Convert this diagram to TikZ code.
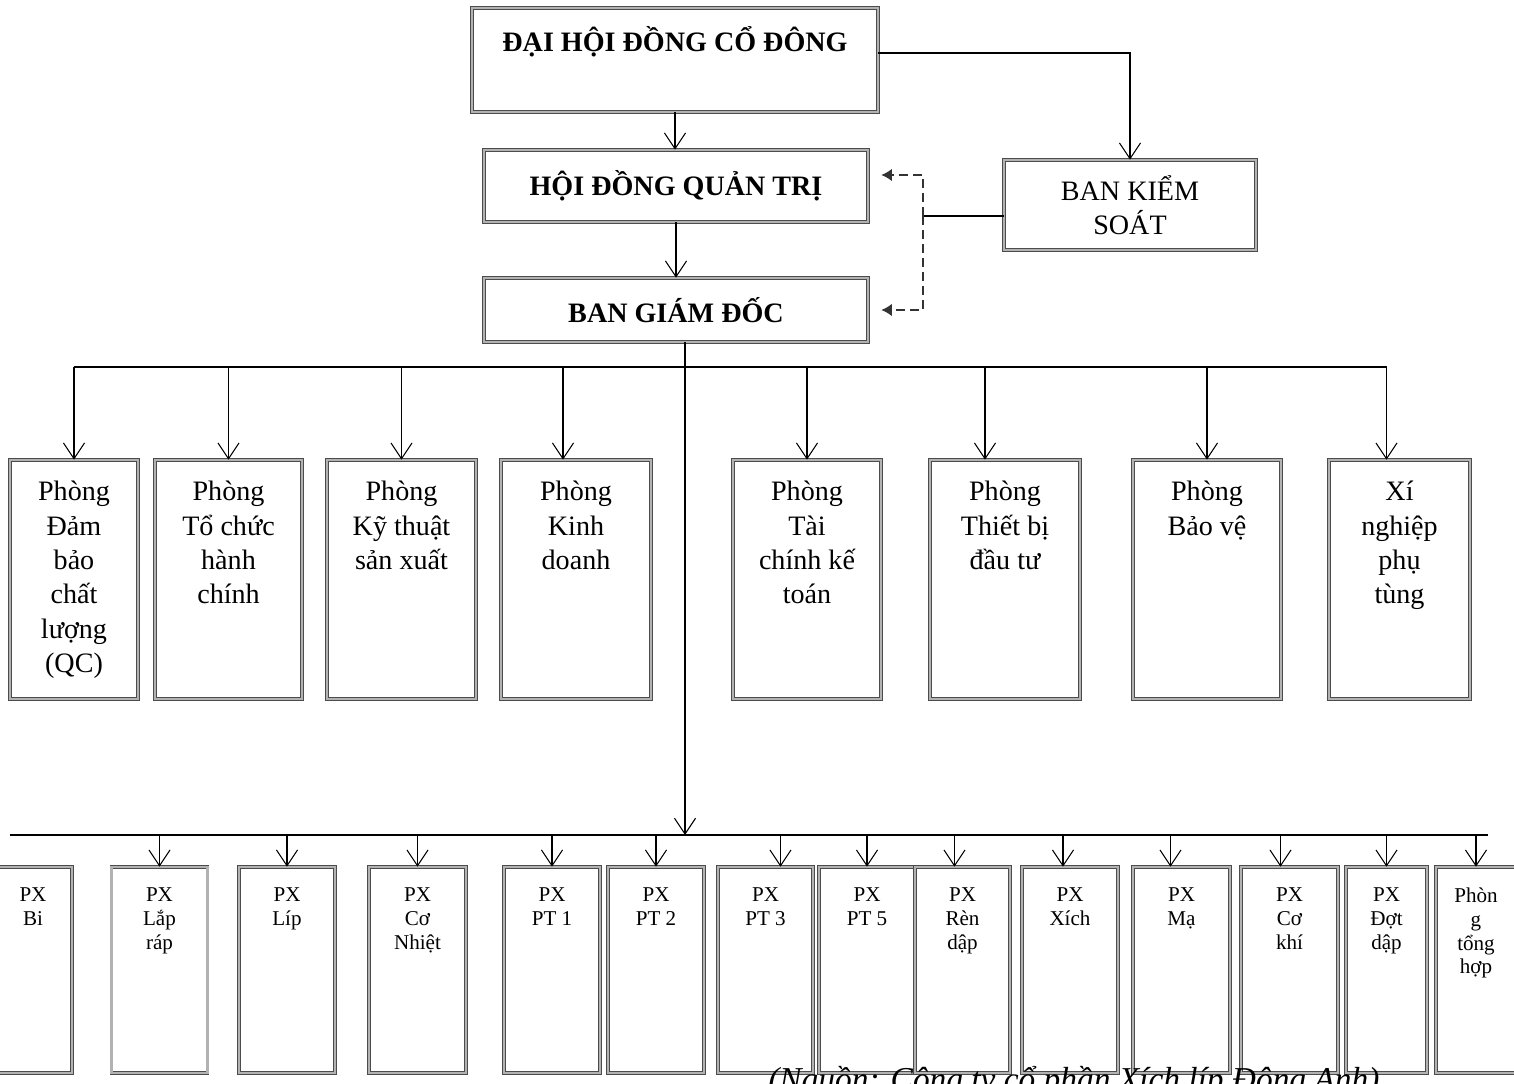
\documentclass[tikz,border=0pt]{standalone}
\usepackage{fontspec}
\setmainfont{Liberation Serif}
\usetikzlibrary{arrows.meta,positioning,calc}

\begin{document}
\begin{tikzpicture}
        [
            x=0.02cm, y=-0.02cm,
            box/.style={draw=black!70, double=black!30, double distance=1.4pt, line width=0.35pt, inner sep=0pt},
            sz/.style 2 args={minimum width=#1*0.02cm, minimum height=#2*0.02cm},
            arr/.style={-{Straight Barb[length=9pt,width=12pt]}, line width=0.6pt},
            link/.style={line width=0.6pt},
            dasharr/.style={-{Latex[length=6pt,width=7pt]}, dash pattern=on 5pt off 3pt, line width=0.7pt, black!80},
            head/.style={font=\fontsize{16}{19.3}\selectfont\bfseries},
            room/.style={font=\fontsize{16}{19.6}\selectfont, align=center, inner sep=0pt},
            shop/.style={font=\fontsize{12}{13.5}\selectfont, align=center, inner sep=0pt}
        ]
        \useasboundingbox (0,0) rectangle (1514,1084);
        \clip (0,0) rectangle (1514,1084);

        \node[box, sz={406}{104}] (dhcd) at (675,60) {};
        \node[head, inner sep=0pt, anchor=base] (dhcd-t) at (675,52) {ĐẠI HỘI ĐỒNG CỔ ĐÔNG};
        \node[box, sz={384}{72}, head] (hdqt) at (676,186) {HỘI ĐỒNG QUẢN TRỊ};
        \node[box, sz={384}{64}, head] (bgd) at (676,310) {BAN GIÁM ĐỐC};
        \node[box, sz={252}{90}, font=\fontsize{16}{19.3}\selectfont, align=center] (bks) at (1130,205) {BAN KIỂM\\SOÁT};

        \draw[arr] (dhcd.south) -- (dhcd.south |- hdqt.north);
        \draw[arr] (hdqt.south) -- (hdqt.south |- bgd.north);
        \draw[arr] ([yshift=0.14cm]dhcd.east) -| (bks.north);

        \coordinate (ks) at (923,216);
        \draw[link] (ks -| bks.west) -- (ks);
        \draw[dasharr] (ks) |- ([xshift=0.26cm,yshift=0.22cm]hdqt.east);
        \draw[dasharr] (ks) |- ([xshift=0.26cm]bgd.east);

        % phong ban
        \node[box, sz={128}{239}] (qc) at (74,579.5) {};
        \node[box, sz={147}{239}] (tc) at (228.5,579.5) {};
        \node[box, sz={149}{239}] (kt) at (401.5,579.5) {};
        \node[box, sz={150}{239}] (kd) at (576,579.5) {};
        \node[box, sz={148}{239}] (tckt) at (807,579.5) {};
        \node[box, sz={150}{239}] (tb) at (1005,579.5) {};
        \node[box, sz={148}{239}] (bv) at (1207,579.5) {};
        \node[box, sz={141}{239}] (xn) at (1399.5,579.5) {};

        \node[room, below=0.42cm of qc.north] (qc-t) {Phòng\\Đảm\\bảo\\chất\\lượng\\(QC)};
        \node[room, below=0.42cm of tc.north] (tc-t) {Phòng\\Tổ chức\\hành\\chính};
        \node[room, below=0.42cm of kt.north] (kt-t) {Phòng\\Kỹ thuật\\sản xuất};
        \node[room, below=0.42cm of kd.north] (kd-t) {Phòng\\Kinh\\doanh};
        \node[room, below=0.42cm of tckt.north] (tckt-t) {Phòng\\Tài\\chính kế\\toán};
        \node[room, below=0.42cm of tb.north] (tb-t) {Phòng\\Thiết bị\\đầu tư};
        \node[room, below=0.42cm of bv.north] (bv-t) {Phòng\\Bảo vệ};
        \node[room, below=0.42cm of xn.north] (xn-t) {Xí\\nghiệp\\phụ\\tùng};

        \coordinate (ub) at (685,367);
        \draw[link] ([xshift=0.18cm]bgd.south) -- ([xshift=0.18cm]bgd.south |- ub);
        \draw[link] (qc.north |- ub) -- ([xshift=-0.26cm]xn.north |- ub);
        \draw[arr] (qc.north |- ub) -- (qc.north);
        \draw[arr] (tc.north |- ub) -- (tc.north);
        \draw[arr] (kt.north |- ub) -- (kt.north);
        \draw[arr] ([xshift=-0.26cm]kd.north |- ub) -- ([xshift=-0.26cm]kd.north);
        \draw[arr] (tckt.north |- ub) -- (tckt.north);
        \draw[arr] ([xshift=-0.4cm]tb.north |- ub) -- ([xshift=-0.4cm]tb.north);
        \draw[arr] (bv.north |- ub) -- (bv.north);
        \draw[arr] ([xshift=-0.26cm]xn.north |- ub) -- ([xshift=-0.26cm]xn.north);

        % phan xuong
        \node[box, sz={78}{206}] (bi) at (33,970) {};
        \node[box, sz={96}{206}] (lr) at (159.5,970) {};
        \node[box, sz={96}{206}] (lip) at (287,970) {};
        \node[box, sz={97}{206}] (cn) at (417.5,970) {};
        \node[box, sz={96}{206}] (pt1) at (552,970) {};
        \node[box, sz={96}{206}] (pt2) at (656,970) {};
        \node[box, sz={95}{206}] (pt3) at (765.5,970) {};
        \node[box, sz={96}{206}] (pt5) at (867,970) {};
        \node[box, sz={95}{206}] (rd) at (962.5,970) {};
        \node[box, sz={96}{206}] (xich) at (1070,970) {};
        \node[box, sz={97}{206}] (ma) at (1181.5,970) {};
        \node[box, sz={97}{206}] (ck) at (1289.5,970) {};
        \node[box, sz={81}{206}] (dd) at (1386.5,970) {};
        \node[box, sz={80}{206}] (pth) at (1476,970) {};

        \node[shop, below=0.42cm of bi.north] (bi-t) {PX\\Bi};
        \node[shop, below=0.42cm of lr.north] (lr-t) {PX\\Lắp\\ráp};
        \node[shop, below=0.42cm of lip.north] (lip-t) {PX\\Líp};
        \node[shop, below=0.42cm of cn.north] (cn-t) {PX\\Cơ\\Nhiệt};
        \node[shop, below=0.42cm of pt1.north] (pt1-t) {PX\\PT 1};
        \node[shop, below=0.42cm of pt2.north] (pt2-t) {PX\\PT 2};
        \node[shop, below=0.42cm of pt3.north] (pt3-t) {PX\\PT 3};
        \node[shop, below=0.42cm of pt5.north] (pt5-t) {PX\\PT 5};
        \node[shop, below=0.42cm of rd.north] (rd-t) {PX\\Rèn\\dập};
        \node[shop, below=0.42cm of xich.north] (xich-t) {PX\\Xích};
        \node[shop, below=0.42cm of ma.north] (ma-t) {PX\\Mạ};
        \node[shop, below=0.42cm of ck.north] (ck-t) {PX\\Cơ\\khí};
        \node[shop, below=0.42cm of dd.north] (dd-t) {PX\\Đợt\\dập};
        \node[shop, below=0.42cm of pth.north] (pth-t) {Phòn\\g\\tổng\\hợp};

        \coordinate (bb) at (685,835);
        \draw[arr] ([xshift=0.18cm]bgd.south |- ub) -- ([xshift=0.18cm]bgd.south |- bb);
        \draw[link] (bi.north west |- bb) ++(0.32cm,0) -- (1488,835);
        \draw[arr] (lr.north |- bb) -- (lr.north);
        \draw[arr] (lip.north |- bb) -- (lip.north);
        \draw[arr] (cn.north |- bb) -- (cn.north);
        \draw[arr] (pt1.north |- bb) -- (pt1.north);
        \draw[arr] (pt2.north |- bb) -- (pt2.north);
        \draw[arr] ([xshift=0.3cm]pt3.north |- bb) -- ([xshift=0.3cm]pt3.north);
        \draw[arr] (pt5.north |- bb) -- (pt5.north);
        \draw[arr] ([xshift=-0.16cm]rd.north |- bb) -- ([xshift=-0.16cm]rd.north);
        \draw[arr] ([xshift=-0.14cm]xich.north |- bb) -- ([xshift=-0.14cm]xich.north);
        \draw[arr] ([xshift=-0.22cm]ma.north |- bb) -- ([xshift=-0.22cm]ma.north);
        \draw[arr] ([xshift=-0.18cm]ck.north |- bb) -- ([xshift=-0.18cm]ck.north);
        \draw[arr] (dd.north |- bb) -- (dd.north);
        \draw[arr] (pth.north |- bb) -- (pth.north);

        \node[font=\fontsize{19}{22}\selectfont\itshape, inner sep=0pt, anchor=base west] (nguon) at (768,1090) {(Nguồn: Công ty cổ phần Xích líp Đông Anh)};

    \end{tikzpicture}
\end{document}
